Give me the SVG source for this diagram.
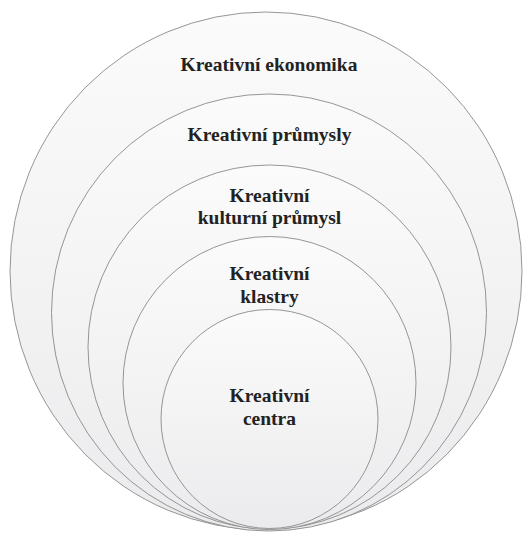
<svg xmlns="http://www.w3.org/2000/svg" width="531" height="536" viewBox="0 0 531 536">
<defs>
<linearGradient id="g" x1="0" y1="0" x2="0" y2="1">
<stop offset="0" stop-color="#fbfbfb"/>
<stop offset="1" stop-color="#ebebed"/>
</linearGradient>
<style>
.c{fill:url(#g);stroke:#8a8a8a;stroke-width:0.9}
text{font-weight:bold;font-size:19.5px;fill:#222;text-anchor:middle}
</style>
</defs>
<rect width="531" height="536" fill="#fff"/>
<g font-family="Liberation Serif, Tinos, DejaVu Serif, serif">
<g id="n1"><ellipse class="c" cx="266" cy="271" rx="256" ry="259"/><text x="269" y="71">Kreativní ekonomika</text></g>
<g id="n2"><ellipse class="c" cx="269" cy="312.5" rx="217.5" ry="218.5"/><text x="269.5" y="141">Kreativní průmysly</text></g>
<g id="n3"><ellipse class="c" cx="269.5" cy="347" rx="181.5" ry="182"/><text x="269.5" y="201.5">Kreativní</text><text x="269.5" y="224">kulturní průmysl</text></g>
<g id="n4"><ellipse class="c" cx="269.5" cy="383" rx="146.5" ry="146.5"/><text x="269.5" y="280">Kreativní</text><text x="269.5" y="302.5">klastry</text></g>
<g id="n5"><ellipse class="c" cx="269.5" cy="419" rx="108.5" ry="109.5"/><text x="269.5" y="401.5">Kreativní</text><text x="269.5" y="425">centra</text></g>
</g>
<g id="connectors"/>
</svg>
